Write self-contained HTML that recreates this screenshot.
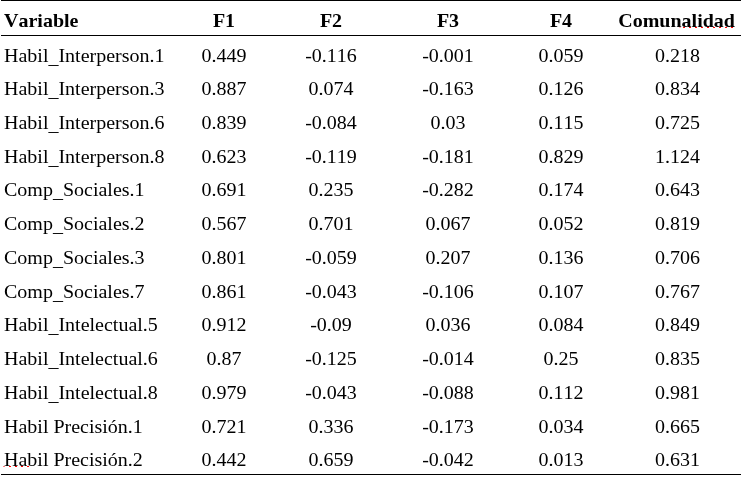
<!DOCTYPE html>
<html><head><meta charset="utf-8"><style>
html,body{margin:0;padding:0;background:#fff;}
body{width:741px;height:477px;position:relative;overflow:hidden;font-family:"Liberation Serif","Times New Roman",serif;color:#000;font-kerning:none;}
.t{position:absolute;white-space:nowrap;font-size:20px;line-height:0;}
.h{font-weight:bold;font-size:20px;}
.t{transform:scaleY(0.95);transform-origin:0 6.75px;}
.c{transform:translateX(-50%) scaleY(0.95);}
.l{position:absolute;left:1px;width:740px;background:#000;}
.u{position:relative;top:2px;}
.d{position:absolute;width:2px;height:1px;background:#f00;}
</style></head><body>

<div class="l" style="top:0px;height:1px"></div>
<div class="l" style="top:35px;height:1px"></div>
<div class="l" style="top:474px;height:1px"></div>
<div class="t h" style="left:4px;top:20px">Variable</div>
<div class="t h c" style="left:224px;top:20px">F1</div>
<div class="t h c" style="left:331px;top:20px">F2</div>
<div class="t h c" style="left:448px;top:20px">F3</div>
<div class="t h c" style="left:561px;top:20px">F4</div>
<div class="t h c" style="left:676.6px;top:20px">Comunalidad</div>
<div class="t " style="left:4px;top:55px">Habil<span class="u">_</span>Interperson.1</div>
<div class="t c" style="left:224px;top:55px">0.449</div>
<div class="t c" style="left:331px;top:55px">-0.116</div>
<div class="t c" style="left:448px;top:55px">-0.001</div>
<div class="t c" style="left:561px;top:55px">0.059</div>
<div class="t c" style="left:677.5px;top:55px">0.218</div>
<div class="t " style="left:4px;top:88px">Habil<span class="u">_</span>Interperson.3</div>
<div class="t c" style="left:224px;top:88px">0.887</div>
<div class="t c" style="left:331px;top:88px">0.074</div>
<div class="t c" style="left:448px;top:88px">-0.163</div>
<div class="t c" style="left:561px;top:88px">0.126</div>
<div class="t c" style="left:677.5px;top:88px">0.834</div>
<div class="t " style="left:4px;top:122px">Habil<span class="u">_</span>Interperson.6</div>
<div class="t c" style="left:224px;top:122px">0.839</div>
<div class="t c" style="left:331px;top:122px">-0.084</div>
<div class="t c" style="left:448px;top:122px">0.03</div>
<div class="t c" style="left:561px;top:122px">0.115</div>
<div class="t c" style="left:677.5px;top:122px">0.725</div>
<div class="t " style="left:4px;top:156px">Habil<span class="u">_</span>Interperson.8</div>
<div class="t c" style="left:224px;top:156px">0.623</div>
<div class="t c" style="left:331px;top:156px">-0.119</div>
<div class="t c" style="left:448px;top:156px">-0.181</div>
<div class="t c" style="left:561px;top:156px">0.829</div>
<div class="t c" style="left:677.5px;top:156px">1.124</div>
<div class="t " style="left:4px;top:189px">Comp<span class="u">_</span>Sociales.1</div>
<div class="t c" style="left:224px;top:189px">0.691</div>
<div class="t c" style="left:331px;top:189px">0.235</div>
<div class="t c" style="left:448px;top:189px">-0.282</div>
<div class="t c" style="left:561px;top:189px">0.174</div>
<div class="t c" style="left:677.5px;top:189px">0.643</div>
<div class="t " style="left:4px;top:223px">Comp<span class="u">_</span>Sociales.2</div>
<div class="t c" style="left:224px;top:223px">0.567</div>
<div class="t c" style="left:331px;top:223px">0.701</div>
<div class="t c" style="left:448px;top:223px">0.067</div>
<div class="t c" style="left:561px;top:223px">0.052</div>
<div class="t c" style="left:677.5px;top:223px">0.819</div>
<div class="t " style="left:4px;top:257px">Comp<span class="u">_</span>Sociales.3</div>
<div class="t c" style="left:224px;top:257px">0.801</div>
<div class="t c" style="left:331px;top:257px">-0.059</div>
<div class="t c" style="left:448px;top:257px">0.207</div>
<div class="t c" style="left:561px;top:257px">0.136</div>
<div class="t c" style="left:677.5px;top:257px">0.706</div>
<div class="t " style="left:4px;top:291px">Comp<span class="u">_</span>Sociales.7</div>
<div class="t c" style="left:224px;top:291px">0.861</div>
<div class="t c" style="left:331px;top:291px">-0.043</div>
<div class="t c" style="left:448px;top:291px">-0.106</div>
<div class="t c" style="left:561px;top:291px">0.107</div>
<div class="t c" style="left:677.5px;top:291px">0.767</div>
<div class="t " style="left:4px;top:324px">Habil<span class="u">_</span>Intelectual.5</div>
<div class="t c" style="left:224px;top:324px">0.912</div>
<div class="t c" style="left:331px;top:324px">-0.09</div>
<div class="t c" style="left:448px;top:324px">0.036</div>
<div class="t c" style="left:561px;top:324px">0.084</div>
<div class="t c" style="left:677.5px;top:324px">0.849</div>
<div class="t " style="left:4px;top:358px">Habil<span class="u">_</span>Intelectual.6</div>
<div class="t c" style="left:224px;top:358px">0.87</div>
<div class="t c" style="left:331px;top:358px">-0.125</div>
<div class="t c" style="left:448px;top:358px">-0.014</div>
<div class="t c" style="left:561px;top:358px">0.25</div>
<div class="t c" style="left:677.5px;top:358px">0.835</div>
<div class="t " style="left:4px;top:392px">Habil<span class="u">_</span>Intelectual.8</div>
<div class="t c" style="left:224px;top:392px">0.979</div>
<div class="t c" style="left:331px;top:392px">-0.043</div>
<div class="t c" style="left:448px;top:392px">-0.088</div>
<div class="t c" style="left:561px;top:392px">0.112</div>
<div class="t c" style="left:677.5px;top:392px">0.981</div>
<div class="t " style="left:4px;top:426px">Habil Precisión.1</div>
<div class="t c" style="left:224px;top:426px">0.721</div>
<div class="t c" style="left:331px;top:426px">0.336</div>
<div class="t c" style="left:448px;top:426px">-0.173</div>
<div class="t c" style="left:561px;top:426px">0.034</div>
<div class="t c" style="left:677.5px;top:426px">0.665</div>
<div class="t " style="left:4px;top:459px">Habil Precisión.2</div>
<div class="t c" style="left:224px;top:459px">0.442</div>
<div class="t c" style="left:331px;top:459px">0.659</div>
<div class="t c" style="left:448px;top:459px">-0.042</div>
<div class="t c" style="left:561px;top:459px">0.013</div>
<div class="t c" style="left:677.5px;top:459px">0.631</div>
<div class="d" style="left:683px;top:27px"></div>
<div class="d" style="left:689px;top:27px"></div>
<div class="d" style="left:695px;top:27px"></div>
<div class="d" style="left:701px;top:27px"></div>
<div class="d" style="left:707px;top:27px"></div>
<div class="d" style="left:713px;top:27px"></div>
<div class="d" style="left:719px;top:27px"></div>
<div class="d" style="left:725px;top:27px"></div>
<div class="d" style="left:731px;top:27px"></div>
<div class="d" style="left:679px;top:27px;opacity:.3"></div>
<div class="d" style="left:9px;top:466px"></div>
<div class="d" style="left:15px;top:466px"></div>
<div class="d" style="left:21px;top:466px"></div>
<div class="d" style="left:27px;top:466px"></div>
<div class="d" style="left:3px;top:466px;opacity:.5"></div>
</body></html>
